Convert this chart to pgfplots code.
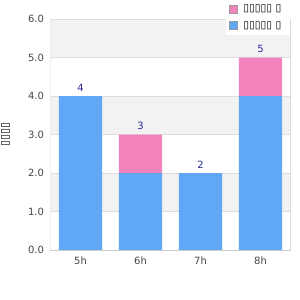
\documentclass[border=0pt]{standalone}
\usepackage{fontspec}
\setmainfont{DejaVu Sans}
\usepackage{pgfplots}
\pgfplotsset{compat=1.18}
\definecolor{cblue}{RGB}{96,168,245}
\definecolor{cpink}{RGB}{242,131,189}
\definecolor{cband}{RGB}{242,242,242}
\definecolor{cgrid}{RGB}{221,221,221}
\definecolor{caxis}{RGB}{204,204,204}
\definecolor{cnum}{RGB}{40,40,150}
\definecolor{ctick}{RGB}{68,68,68}
\pgfplotsset{common/.style={at={(50.5bp,50bp)}, anchor=south west,
  scale only axis, width=240bp, height=231bp,
  xmin=-0.5, xmax=3.5, ymin=0, ymax=6}}
\begin{document}
\begin{tikzpicture}[x=1bp,y=1bp]
\useasboundingbox (0,0) rectangle (300,300);
\begin{axis}[common, hide axis]
\fill[cband] (axis cs:-0.5,1) rectangle (axis cs:3.5,2);
\fill[cband] (axis cs:-0.5,3) rectangle (axis cs:3.5,4);
\fill[cband] (axis cs:-0.5,5) rectangle (axis cs:3.5,6);
\foreach \k in {1,2,3,4,5,6} {
  \edef\tmp{\noexpand\draw[cgrid, line width=0.8bp] (axis cs:-0.5,\k) -- (axis cs:3.5,\k);}\tmp
}
\draw[caxis, line width=0.8bp] (axis cs:-0.5,0) -- (axis cs:-0.5,6);
\draw[caxis, line width=0.8bp] (axis cs:3.5,0) -- (axis cs:3.5,6);
\end{axis}
\begin{axis}[common,
  ybar stacked, bar width=0.717,
  xtick={0,1,2,3}, xticklabels={5h,6h,7h,8h},
  ytick={0,1,2,3,4,5,6},
  yticklabel style={/pgf/number format/fixed,/pgf/number format/fixed zerofill,/pgf/number format/precision=1, xshift=-3bp},
  /pgf/number format/assume math mode=true,
  ticklabel style={font=\fontsize{10}{12}\selectfont, text=ctick},
  xticklabel style={yshift=-3bp},
  major tick length=0pt,
  separate axis lines,
  axis x line*=bottom,
  axis y line*=left,
  x axis line style={caxis, line width=0.8bp, -},
  y axis line style={draw=none, -},
  ylabel={\fontsize{11}{13}\selectfont ▯▯▯▯},
  ylabel style={at={(rel axis cs:0,0.5)}, anchor=center, yshift=45bp, inner sep=0pt},
  legend style={at={(rel axis cs:1,1.082)}, anchor=north east, draw=none, fill=white,
    font=\fontsize{10.5}{12}\selectfont, row sep=4bp, inner sep=3bp,
    nodes={inner xsep=6bp}},
  legend image code/.code={\filldraw[#1, draw=gray!80, line width=0.6bp] (0bp,-4bp) rectangle (8bp,4bp);},
  reverse legend,
]
\addplot[fill=cblue, draw=none] coordinates {(0,4) (1,2) (2,2) (3,4)};
\addlegendentry{▯▯▯▯▯ ▯}
\addplot[fill=cpink, draw=none] coordinates {(0,0) (1,1) (2,0) (3,1)};
\addlegendentry{▯▯▯▯▯ ▯}
\end{axis}
\begin{axis}[common, hide axis, ybar, bar width=0.717,
  nodes near coords,
  every node near coord/.append style={font=\fontsize{10}{12}\selectfont, text=cnum, anchor=south, yshift=1bp},
  /pgf/number format/assume math mode=true]
\addplot[draw=none, fill=none] coordinates {(0,4) (1,3) (2,2) (3,5)};
\end{axis}
\end{tikzpicture}
\end{document}
